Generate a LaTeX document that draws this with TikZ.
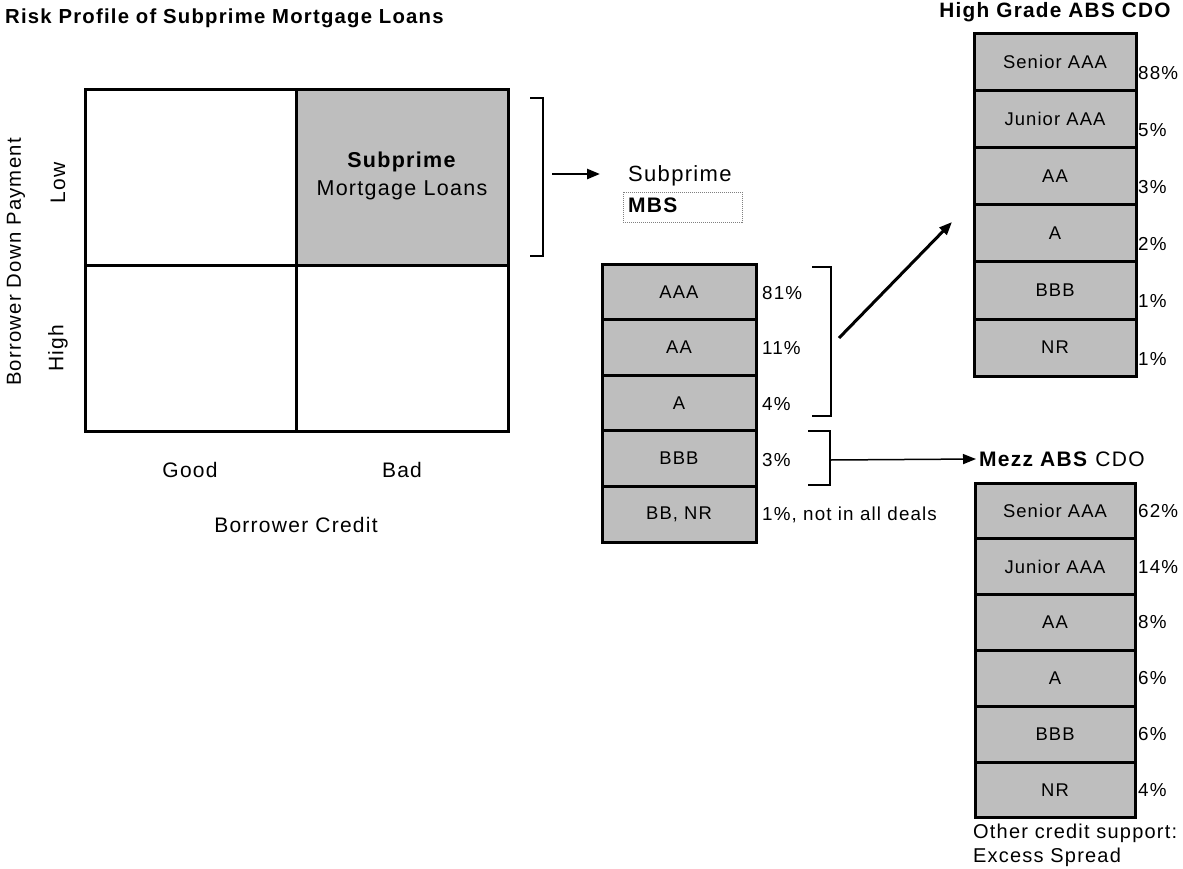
\documentclass[tikz,border=0pt]{standalone}
\usepackage{fontspec}
\setmainfont{Liberation Sans}[LetterSpace=6]
\usetikzlibrary{arrows.meta,positioning}

\definecolor{cellgray}{RGB}{190,190,190}
\tikzset{
  tranche/.style={draw, line width=3pt, fill=cellgray, inner sep=0pt,
    font=\fontsize{18.4}{22}\selectfont},
  pct/.style={anchor=west, inner sep=0pt, font=\fontsize{18.8}{22}\selectfont},
  axislbl/.style={inner sep=0pt, font=\fontsize{21}{25}\selectfont},
  head/.style={inner sep=0pt, font=\fontsize{21}{25}\selectfont},
  bracket/.style={line width=1.5pt},
  feed/.style={-{Triangle[length=13pt,width=10pt]}, line width=2.5pt},
}

\begin{document}
\begin{tikzpicture}[x=1pt,y=-1pt]
\fill[white] (0,0) rectangle (1183,868);
\useasboundingbox (0,0) rectangle (1183,868);
%
\node[anchor=west, inner sep=0pt, font=\fontsize{20.3}{24}\selectfont\bfseries]
  (title) at (5,18) {Risk Profile of Subprime Mortgage Loans};
%
\fill[cellgray] (296,89) rectangle (508,265);
\draw[line width=3pt] (85,89) rectangle (508,431);
\draw[line width=3pt] (296,89) -- (296,431) (85,265) -- (508,265);
%
\node[align=center, inner sep=0pt, font=\fontsize{21.5}{28}\selectfont]
  (cell) at (402,176) {\textbf{Subprime}\\Mortgage Loans};
\node[axislbl] (good) at (190,470) {Good};
\node[axislbl] (bad) at (402,470) {Bad};
\node[axislbl] (credit) at (296,525) {Borrower Credit};
\node[axislbl, rotate=90] (low) at (58,183) {Low};
\node[axislbl, rotate=90] (high) at (58,348) {High};
\node[axislbl, rotate=90, font=\fontsize{20.3}{25}\selectfont]
  (down) at (16,262) {Borrower Down Payment};
%
\draw[bracket] (530,98) -- (543,98) -- (543,256) -- (530,256);
\coordinate (loanbr) at (552,174);
\coordinate (mbsin) at (600,174);
\draw[feed] (loanbr) -- (mbsin);
%
\node[head, anchor=west, font=\fontsize{22}{25}\selectfont]
  (mbshead) at (628,176) {Subprime};
\node[head, anchor=west, font=\fontsize{21}{25}\selectfont\bfseries]
  (mbsname) at (628,205) {MBS};
\draw[gray, densely dotted, line width=1pt] (623,192) rectangle (742,222);
%
\foreach \lbl/\p [count=\i] in {AAA/81\%, AA/11\%, A/4\%, BBB/3\%,
    {BB, NR}/{1\%, not in all deals}}{
  \node[tranche, minimum width=154pt, minimum height=55.6pt]
    (mbs\i) at (679,{264+55.6*(\i-0.5)}) {\lbl};
  \node[pct] at (762,{264+55.6*(\i-0.5)+1}) {\p};
}
%
\draw[bracket] (812,267) -- (831,267) -- (831,416) -- (812,416);
\draw[bracket] (808,431) -- (830,431) -- (830,485) -- (808,485);
%
\node[head, font=\fontsize{20.8}{25}\selectfont\bfseries]
  (hghead) at (1055,12) {High Grade ABS CDO};
\foreach \lbl/\p [count=\i] in {Senior AAA/88\%, Junior AAA/5\%, AA/3\%,
    A/2\%, BBB/1\%, NR/1\%}{
  \node[tranche, minimum width=162pt, minimum height=57.2pt]
    (hg\i) at (1055,{33+57.2*(\i-0.5)}) {\lbl};
  \node[pct] at (1138,{33+57.2*(\i-0.5)+11}) {\p};
}
%
\node[head, anchor=west, inner sep=3pt] (mzhead) at (976,459)
  {\textbf{Mezz ABS} CDO};
\foreach \lbl/\p [count=\i] in {Senior AAA/62\%, Junior AAA/14\%, AA/8\%,
    A/6\%, BBB/6\%, NR/4\%}{
  \node[tranche, minimum width=160pt, minimum height=55.8pt]
    (mz\i) at (1055,{483+55.8*(\i-0.5)}) {\lbl};
  \node[pct] at (1138,{483+55.8*(\i-0.5)}) {\p};
}
\node[pct, font=\fontsize{20}{22}\selectfont] (other) at (973,833)
  {Other credit support:};
\node[pct, font=\fontsize{20}{22}\selectfont] (excess) at (973,857)
  {Excess Spread};
%
\coordinate (senbr) at (839,338);
\coordinate (hgin) at (952,222);
\draw[feed, line width=3pt] (senbr) -- (hgin);
\coordinate (mezzbr) at (830,460);
\draw[feed, line width=1.5pt] (mezzbr) -- (mzhead.west);
\end{tikzpicture}
\end{document}
